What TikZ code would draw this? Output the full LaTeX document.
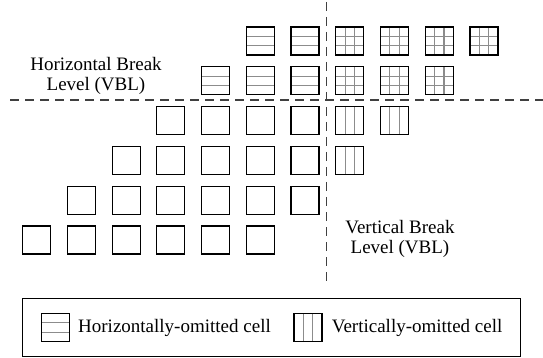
\documentclass[tikz,border=0pt]{standalone}
\usepackage{fontspec}
\setmainfont{Liberation Serif}
\usetikzlibrary{calc}
\begin{document}
\begin{tikzpicture}[x=1pt,y=-1pt,
  cellbox/.style={draw=black, line width=1.2pt, minimum width=28pt, minimum height=28pt, inner sep=0pt, outer sep=0pt},
  gridline/.style={draw=black!45, line width=1.2pt},
  hlines/.style={path picture={
     \foreach \f in {1,2}{\draw[gridline] ($(path picture bounding box.north west)!\f/3!(path picture bounding box.south west)$) -- ($(path picture bounding box.north east)!\f/3!(path picture bounding box.south east)$);}}},
  vlines/.style={path picture={
     \foreach \f in {1,2}{\draw[gridline] ($(path picture bounding box.north west)!\f/3!(path picture bounding box.north east)$) -- ($(path picture bounding box.south west)!\f/3!(path picture bounding box.south east)$);}}},
  ecell/.style={cellbox},
  hcell/.style={cellbox, hlines},
  vcell/.style={cellbox, vlines},
  gcell/.style={cellbox, path picture={
     \foreach \f in {1,2}{\draw[gridline] ($(path picture bounding box.north west)!\f/3!(path picture bounding box.south west)$) -- ($(path picture bounding box.north east)!\f/3!(path picture bounding box.south east)$);
     \draw[gridline] ($(path picture bounding box.north west)!\f/3!(path picture bounding box.north east)$) -- ($(path picture bounding box.south west)!\f/3!(path picture bounding box.south east)$);}}},
  breakline/.style={draw=black!75, line width=1.5pt, dash pattern=on 9pt off 6pt},
  lbl/.style={font=\fontsize{19}{20.5}\selectfont, align=center, inner sep=0pt},
  legendbox/.style={draw=black, line width=1pt}
]
\useasboundingbox (0,0) rectangle (543,358);
% cells: row j, column i -> center (36.7+44.73 i, 41+39.8 j)
\foreach \i/\j/\t in {5/0/hcell,6/0/hcell,7/0/gcell,8/0/gcell,9/0/gcell,10/0/gcell,
  4/1/hcell,5/1/hcell,6/1/hcell,7/1/gcell,8/1/gcell,9/1/gcell,
  3/2/ecell,4/2/ecell,5/2/ecell,6/2/ecell,7/2/vcell,8/2/vcell,
  2/3/ecell,3/3/ecell,4/3/ecell,5/3/ecell,6/3/ecell,7/3/vcell,
  1/4/ecell,2/4/ecell,3/4/ecell,4/4/ecell,5/4/ecell,6/4/ecell,
  0/5/ecell,1/5/ecell,2/5/ecell,3/5/ecell,4/5/ecell,5/5/ecell}{
  \node[\t] (c\i-\j) at ({36.7+44.73*\i},{41+39.8*\j}) {};
}
% break lines
\coordinate (vtop) at (326.5,2);
\coordinate (vbot) at (326.5,284);
\coordinate (hleft) at (10,100);
\coordinate (hright) at (543,100);
\draw[breakline] (vtop) -- (vbot);
\draw[breakline] (hleft) -- (hright);
% labels
\node[lbl] (hbl) at (96,76) {Horizontal Break\\Level (VBL)};
\node[lbl] (vbl) at (400,239) {Vertical Break\\Level (VBL)};
% legend
\node[legendbox, minimum width=498pt, minimum height=58pt, inner sep=0pt] (legend) at (271,327) {};
\node[hcell] (lh) at (55.5,327.5) {};
\node[lbl, anchor=west] (lht) at (78,327.5) {Horizontally-omitted cell};
\node[vcell] (lv) at (308,327.5) {};
\node[lbl, anchor=west] (lvt) at (331.7,327.5) {Vertically-omitted cell};
\end{tikzpicture}
\end{document}
